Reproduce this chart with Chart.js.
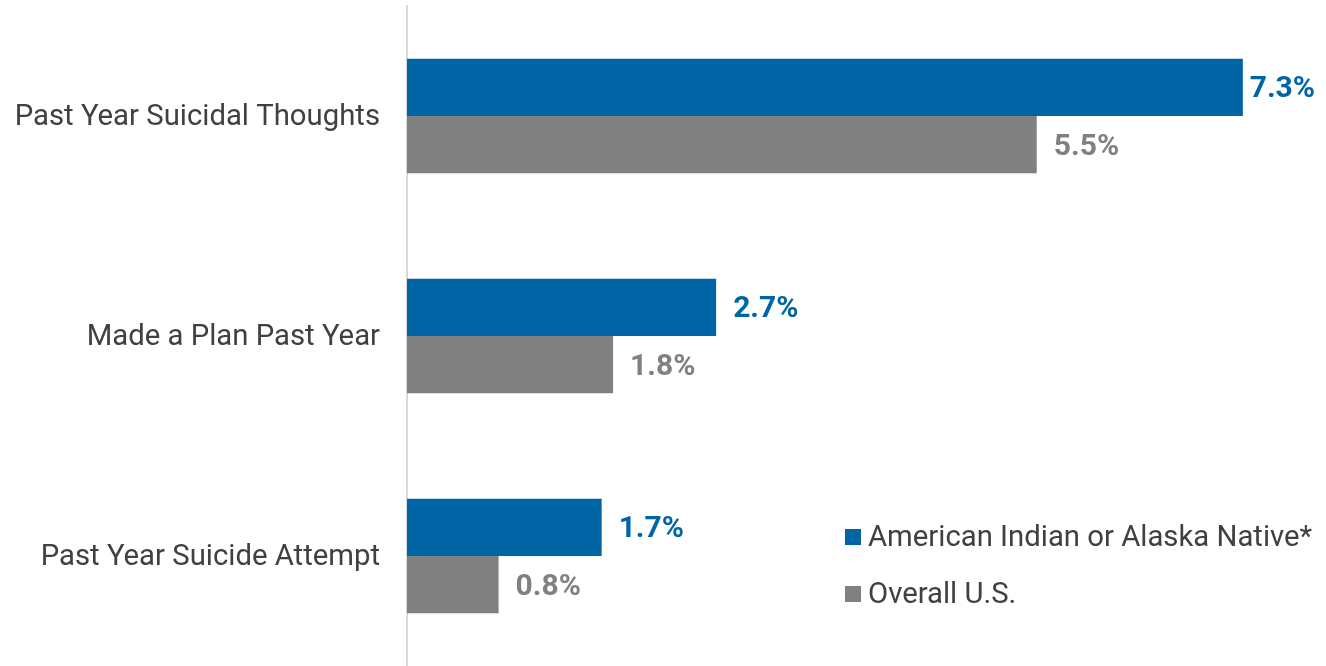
<!DOCTYPE html>
<html>
<head>
<meta charset="utf-8">
<script src="https://cdn.jsdelivr.net/npm/chart.js@4.4.0/dist/chart.umd.min.js"></script>
<style>
    html, body { margin: 0; padding: 0; background: #fff; }
    #wrap { width: 1326px; height: 666px; position: relative; }
</style>
</head>
<body>
<div id="wrap"><canvas id="myChart"></canvas></div>
<script>
const categorias = ['Past Year Suicidal Thoughts', 'Made a Plan Past Year', 'Past Year Suicide Attempt'];
const serieNombres = ['American Indian or Alaska Native*', 'Overall U.S.'];
const valoresAIAN = [7.3, 2.7, 1.7];
const valoresUS = [5.5, 1.8, 0.8];
const colores = ['#0065a4', '#808080'];

const FUENTE = 'Roboto, "Noto Sans", sans-serif';

// etiquetas de valor al final de cada barra
const valueLabels = {
    id: 'valueLabels',
    afterDatasetsDraw(chart) {
        const ctx = chart.ctx;
        ctx.save();
        ctx.font = 'bold 30px ' + FUENTE;
        ctx.textBaseline = 'middle';
        ctx.textAlign = 'left';
        chart.data.datasets.forEach((ds, i) => {
            chart.getDatasetMeta(i).data.forEach((bar, j) => {
                const txt = ds.data[j].toFixed(1) + '%';
                const w = ctx.measureText(txt).width;
                let x = bar.x + 17;
                if (x + w > 1315) x = 1315 - w;
                ctx.fillStyle = ds.backgroundColor;
                ctx.fillText(txt, x, bar.y + 2.5);
            });
        });
        ctx.restore();
    }
};

// leyenda abajo a la derecha
const leyenda = {
    id: 'leyenda',
    afterDraw(chart) {
        const ctx = chart.ctx;
        ctx.save();
        ctx.font = '29.3px ' + FUENTE;
        ctx.textBaseline = 'middle';
        chart.data.datasets.forEach((ds, i) => {
            const y = 537 + i * 57;
            ctx.fillStyle = ds.backgroundColor;
            ctx.fillRect(845, y - 8, 16, 16);
            ctx.fillStyle = '#404040';
            ctx.fillText(ds.label, 868, y + 2);
        });
        ctx.restore();
    }
};

const config = {
    type: 'bar',
    data: {
        labels: categorias,
        datasets: [{
                label: serieNombres[0],
                data: valoresAIAN,
                backgroundColor: colores[0]
            }, {
                label: serieNombres[1],
                data: valoresUS,
                backgroundColor: colores[1]
            }]
    },
    options: {
        indexAxis: 'y',
        responsive: true,
        maintainAspectRatio: false,
        animation: false,
        layout: { padding: { top: 6, right: 3, bottom: 0, left: 0 } },
        datasets: {
            bar: { barPercentage: 1, categoryPercentage: 0.52 }
        },
        plugins: {
            legend: { display: false },
            tooltip: { enabled: false }
        },
        scales: {
            x: {
                display: false,
                min: 0,
                max: 8
            },
            y: {
                afterFit(scale) {
                    scale.width = 407;
                    scale.paddingTop = 0;
                    scale.paddingBottom = 0;
                },
                grid: { display: false, drawTicks: false },
                border: { display: true, color: '#d9d9d9', width: 2 },
                ticks: {
                    padding: 27,
                    labelOffset: 2,
                    color: '#404040',
                    font: { family: FUENTE, size: 29.3 }
                }
            }
        }
    },
    plugins: [valueLabels, leyenda]
};

var myChart = new Chart(document.getElementById('myChart'), config);
</script>
</body>
</html>
